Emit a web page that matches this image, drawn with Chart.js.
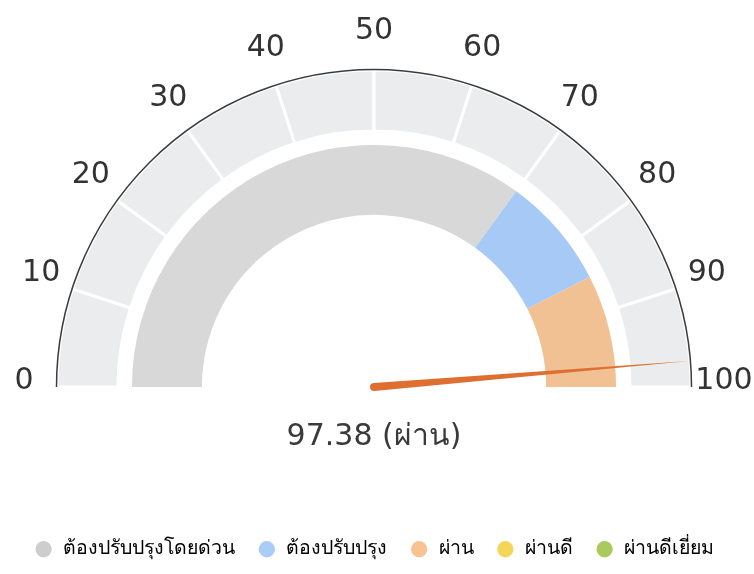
<!DOCTYPE html>
<html>
<head>
<meta charset="utf-8">
<script src="https://cdn.jsdelivr.net/npm/chart.js@4.4.0/dist/chart.umd.min.js"></script>
<style>
  html, body { margin: 0; padding: 0; background: #fff; }
  #wrap { width: 754px; height: 574px; position: relative; }
</style>
</head>
<body>
<div id="wrap"><canvas id="gauge"></canvas></div>
<script>
// เกณฑ์การประเมิน (ช่วงคะแนนของแต่ละระดับ)
const categories = ['ต้องปรับปรุงโดยด่วน', 'ต้องปรับปรุง', 'ผ่าน', 'ผ่านดี', 'ผ่านดีเยี่ยม'];
const categoryRanges = [70, 15, 15, 0, 0];
const categoryColors = ['#d8d8d8', '#a7c9f5', '#f1c093', '#f2d250', '#a8c958'];
const legendColors = ['#cdcdcd', '#a9cdf7', '#f6c493', '#f3d658', '#a9ca5c'];

// สเกลด้านนอก 0-100
const scaleSteps = [10, 10, 10, 10, 10, 10, 10, 10, 10, 10];
const tickLabels = ['0', '10', '20', '30', '40', '50', '60', '70', '80', '90', '100'];
const scaleMax = 100;

const score = 97.38;
const scoreLabel = '97.38 (ผ่าน)';

const FONT = "'DejaVu Sans', 'Noto Sans', sans-serif";
const ROTATION = -90;
const CIRCUMFERENCE = 180;

// เข็ม + ตัวเลขสเกล + เส้นขอบด้านนอก
const gaugeDecor = {
    id: 'gaugeDecor',
    afterDatasetsDraw(chart) {
        const ctx = chart.ctx;
        const arc = chart.getDatasetMeta(0).data[0];
        const cx = arc.x, cy = arc.y;
        const R = arc.outerRadius;
        const start = (ROTATION - 90) * Math.PI / 180;
        const span = CIRCUMFERENCE * Math.PI / 180;
        const toAngle = v => start + span * v / scaleMax;

        ctx.save();
        // เส้นขอบโค้ง
        ctx.beginPath();
        ctx.arc(cx, cy, R + 0.5, start, start + span);
        ctx.strokeStyle = '#3c3c3c';
        ctx.lineWidth = 1.5;
        ctx.stroke();

        // ตัวเลขสเกล
        ctx.fillStyle = '#333';
        ctx.font = '30px ' + FONT;
        ctx.textAlign = 'center';
        ctx.textBaseline = 'middle';
        tickLabels.forEach(t => {
            const a = toAngle(Number(t));
            ctx.fillText(t, cx + Math.cos(a) * 350, cy + Math.sin(a) * 350 - 6);
        });

        // เข็ม
        const a = toAngle(score);
        const w = 4;
        const nx = -Math.sin(a), ny = Math.cos(a);
        ctx.beginPath();
        ctx.moveTo(cx + nx * w, cy + ny * w);
        ctx.lineTo(cx + Math.cos(a) * (R - 1), cy + Math.sin(a) * (R - 1));
        ctx.lineTo(cx - nx * w, cy - ny * w);
        ctx.arc(cx, cy, w, a - Math.PI / 2 - Math.PI, a - Math.PI / 2, false);
        ctx.closePath();
        ctx.fillStyle = '#de6f30';
        ctx.fill();
        ctx.restore();
    }
};

new Chart(document.getElementById('gauge'), {
    type: 'doughnut',
    data: {
        labels: categories,
        datasets: [
            {
                data: scaleSteps,
                backgroundColor: '#ebeced',
                borderColor: '#ffffff',
                borderWidth: 3,
                weight: 61
            },
            {
                data: [scaleMax],
                backgroundColor: 'rgba(0,0,0,0)',
                borderWidth: 0,
                weight: 14
            },
            {
                data: categoryRanges,
                backgroundColor: categoryColors,
                borderWidth: 0,
                weight: 70
            }
        ]
    },
    options: {
        responsive: true,
        maintainAspectRatio: false,
        animation: false,
        events: [],
        rotation: ROTATION,
        circumference: CIRCUMFERENCE,
        radius: 317,
        cutout: '54.3%',
        layout: { padding: { top: 70, left: 0, right: 6, bottom: 5 } },
        plugins: {
            tooltip: { enabled: false },
            title: {
                display: true,
                text: scoreLabel,
                position: 'bottom',
                weight: 500,
                color: '#3a3a3a',
                font: { family: FONT, size: 30, weight: 'normal' },
                padding: { top: 32, bottom: 62.5 }
            },
            legend: {
                position: 'bottom',
                labels: {
                    usePointStyle: true,
                    boxHeight: 11.5,
                    padding: 22,
                    color: '#909090',
                    font: { family: FONT, size: 19.5 },
                    generateLabels: () => categories.map((c, i) => ({
                        text: c,
                        fillStyle: legendColors[i],
                        strokeStyle: legendColors[i],
                        lineWidth: 0,
                        pointStyle: 'circle',
                        hidden: false,
                        index: i
                    }))
                }
            }
        }
    },
    plugins: [gaugeDecor]
});
</script>
</body>
</html>
